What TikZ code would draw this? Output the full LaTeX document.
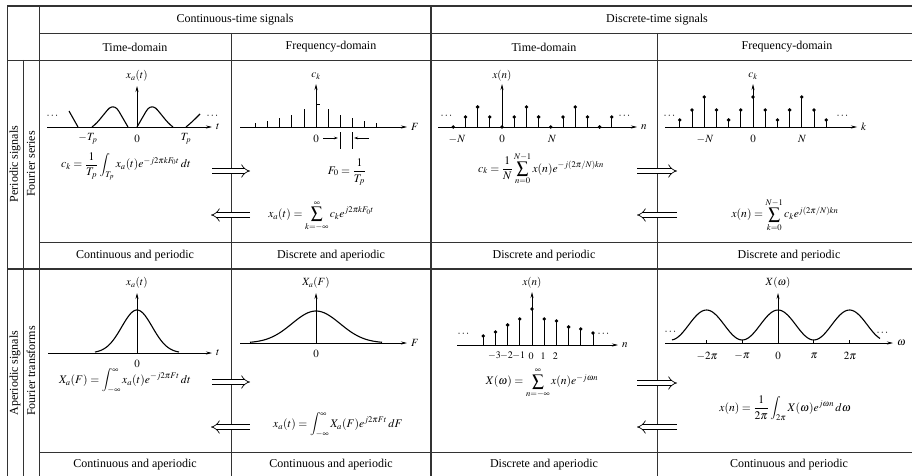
\documentclass[tikz,border=0pt]{standalone}
\usepackage{amsmath}
\usepackage{mathptmx}
\usepackage{fontspec}
\setmainfont{Liberation Serif}
\usetikzlibrary{arrows.meta}

\begin{document}
\begin{tikzpicture}[
    x=1pt, y=-1pt,
    % line styles
    gridline/.style={line width=0.8pt, draw=black!80},
    gridthick/.style={line width=1.5pt, draw=black!80},
    axisline/.style={line width=0.7pt, -{Stealth[length=6pt,width=3pt]}},
    stemline/.style={line width=0.7pt},
    sigline/.style={line width=1.1pt},
    pairArrow/.style={line width=0.7pt, double, double distance=4pt, -{Implies[scale=1.3]}},
    gapArrow/.style={line width=0.6pt, -{Stealth[length=4pt,width=2.5pt]}},
    % text styles
    hdr/.style={font=\fontsize{12}{14}\selectfont, inner sep=1pt},
    lbl/.style={font=\fontsize{11}{13}\selectfont, inner sep=1pt},
    tiny/.style={font=\fontsize{10}{12}\selectfont, inner sep=0.5pt},
    fml/.style={font=\fontsize{11.6}{13}\selectfont, inner sep=1pt}
  ]
  \useasboundingbox (0,0) rectangle (912,476);

  % =========================================================
  % Table rules
  % =========================================================
  \draw[gridthick] (7,6) -- (912,6);
  \draw[gridline] (39,33) -- (912,33);
  \draw[gridline] (7,60) -- (912,60);
  \draw[gridline] (39,242) -- (912,242);
  \draw[gridthick] (7,269) -- (912,269);
  \draw[gridline] (39,452) -- (912,452);
  \draw[gridline] (7,6) -- (7,476);
  \draw[gridline] (23,60) -- (23,476);
  \draw[gridline] (39,6) -- (39,476);
  \draw[gridline] (231,33) -- (231,476);
  \draw[gridthick] (431,6) -- (431,476);
  \draw[gridline] (657,33) -- (657,476);

  % Headers
  \node[hdr] (hCont) at (235,20) {Continuous-time signals};
  \node[hdr] (hDisc) at (657,20) {Discrete-time signals};
  \node[hdr] (hCT) at (135,47) {Time-domain};
  \node[hdr] (hCF) at (331,47) {Frequency-domain};
  \node[hdr] (hDT) at (544,47) {Time-domain};
  \node[hdr] (hDF) at (787,47) {Frequency-domain};

  \node[hdr, rotate=90] (sPer) at (15,164) {Periodic signals};
  \node[hdr, rotate=90] (sFS) at (31,164) {Fourier series};
  \node[hdr, rotate=90] (sAper) at (15,373) {Aperiodic signals};
  \node[hdr, rotate=90] (sFT) at (31,371) {Fourier transforms};

  \node[hdr] (bCP) at (135,256) {Continuous and periodic};
  \node[hdr] (bDA) at (331,256) {Discrete and aperiodic};
  \node[hdr] (bDP1) at (544,256) {Discrete and periodic};
  \node[hdr] (bDP2) at (789,256) {Discrete and periodic};
  \node[hdr] (bCA1) at (135,465) {Continuous and aperiodic};
  \node[hdr] (bCA2) at (331,465) {Continuous and aperiodic};
  \node[hdr] (bDA2) at (544,465) {Discrete and aperiodic};
  \node[hdr] (bCP2) at (789,465) {Continuous and periodic};

  % =========================================================
  % 1. Periodic, continuous time
  % =========================================================
  \draw[axisline] (47,127) -- (212,127);
  \draw[axisline] (137,127) -- (137,86);
  \node[lbl] (xaT) at (137,76) {$x_a(t)$};
  \node[lbl, anchor=west] (tT) at (215,127) {$t$};
  \begin{scope}[shift={(137,127)}, yscale=-1]
    \draw[sigline] (0,0) -- (9,15.5) .. controls (11.5,20) and (15,21.5) .. (18.5,19) .. controls (23,15) and (29,5) .. (36,0);
  \end{scope}
  \begin{scope}[shift={(128,127)}, xscale=-1, yscale=-1]
    \draw[sigline] (0,0) -- (9,15.5) .. controls (11.5,20) and (15,21.5) .. (18.5,19) .. controls (23,15) and (29,5) .. (36,0);
  \end{scope}
  \draw[sigline] (78,127) -- (69,111);
  \draw[sigline] (186,127) .. controls (192,122) .. (200,114);
  \node[lbl] (dT1) at (53,116) {$\cdots$};
  \node[lbl] (dT2) at (213,116) {$\cdots$};
  \node[lbl] (mTp) at (88,139) {$-T_p$};
  \node[lbl] (zT) at (137,139) {$0$};
  \node[lbl] (pTp) at (186,139) {$T_p$};
  \node[fml] (ckInt) at (126,166) {$c_k=\dfrac{1}{T_p}\displaystyle\int_{T_p}x_a(t)e^{-j2\pi kF_0t}\,dt$};

  % =========================================================
  % 2. Periodic, continuous frequency
  % =========================================================
  \draw[axisline] (240,127) -- (407,127);
  \draw[axisline] (316,127) -- (316,84);
  \node[lbl] (ckF) at (316,76) {$c_k$};
  \node[lbl, anchor=west] (fF) at (410,127) {$F$};
  \foreach \k/\h in {-5/4,-4/6,-3/9,-2/12,-1/18,1/18,2/12,3/9,4/6,5/4}
    \draw[stemline] (316+12.1*\k,127) -- (316+12.1*\k,127-\h);
  \draw[stemline] (316,104) -- (320,104);
  \node[lbl] (zF) at (316,139) {$0$};
  \draw[stemline] (340,132) -- (340,149);
  \draw[stemline] (352,132) -- (352,149);
  \coordinate (gapL) at (323,138);
  \coordinate (gapLe) at (338,138);
  \coordinate (gapR) at (369,138);
  \coordinate (gapRe) at (354,138);
  \draw[gapArrow] (gapL) -- (gapLe);
  \draw[gapArrow] (gapR) -- (gapRe);
  \node[fml] (fZero) at (347,172) {$F_0=\dfrac{1}{T_p}$};
  \node[fml] (xaSum) at (321,216) {$x_a(t)=\displaystyle\sum_{k=-\infty}^{\infty}c_k e^{j2\pi kF_0t}$};

  % =========================================================
  % 3. Periodic, discrete time
  % =========================================================
  \draw[axisline] (438,127) -- (637,127);
  \draw[axisline] (502,127) -- (502,84);
  \node[lbl] (xnT) at (502,76) {$x(n)$};
  \node[lbl, anchor=west] (nT) at (640,127) {$n$};
  \foreach \n/\h in {-4/0,-3/10,-2/20,-1/10,0/0,1/10,2/20,3/10,4/0,5/10,6/20,7/10,8/0,9/10}{
    \draw[stemline] (502+12.2*\n,127) -- (502+12.2*\n,127-\h);
    \fill (502+12.2*\n,127-\h) circle (1.9);
  }
  \node[lbl] (dN1) at (447,116) {$\cdots$};
  \node[lbl] (dN2) at (625,116) {$\cdots$};
  \node[lbl] (mN) at (457,139) {$-N$};
  \node[lbl] (zN) at (502,139) {$0$};
  \node[lbl] (pN) at (552,139) {$N$};
  \node[fml] (ckSum) at (541,169) {$c_k=\dfrac{1}{N}\displaystyle\sum_{n=0}^{N-1}x(n)e^{-j(2\pi/N)kn}$};

  % =========================================================
  % 4. Periodic, discrete frequency
  % =========================================================
  \draw[axisline] (665,127) -- (857,127);
  \draw[axisline] (753,127) -- (753,84);
  \node[lbl] (ckK) at (753,76) {$c_k$};
  \node[lbl, anchor=west] (kK) at (860,127) {$k$};
  \foreach \k/\h in {-6/7,-5/17,-4/30,-3/17,-2/7,-1/17,0/30,1/17,2/7,3/17,4/30,5/17,6/7}{
    \draw[stemline] (753+12.2*\k,127) -- (753+12.2*\k,127-\h);
    \fill (753+12.2*\k,127-\h) circle (1.9);
  }
  \node[lbl] (dK1) at (670,116) {$\cdots$};
  \node[lbl] (dK2) at (843,116) {$\cdots$};
  \node[lbl] (mNk) at (705,139) {$-N$};
  \node[lbl] (zK) at (753,139) {$0$};
  \node[lbl] (pNk) at (802,139) {$N$};
  \node[fml] (xnSum) at (785,215) {$x(n)=\displaystyle\sum_{k=0}^{N-1}c_k e^{j(2\pi/N)kn}$};

  % =========================================================
  % 5. Aperiodic, continuous time
  % =========================================================
  \draw[axisline] (48,353) -- (212,353);
  \draw[axisline] (137,353) -- (137,293);
  \node[lbl] (xaA) at (137,283) {$x_a(t)$};
  \node[lbl, anchor=west] (tA) at (215,353) {$t$};
  \begin{scope}[shift={(137,353)}, yscale=-1]
    \draw[sigline] plot[domain=-42:42, samples=60, smooth] (\x, {43*exp(-\x*\x/(2*15.3*15.3))});
  \end{scope}
  \node[lbl] (zA) at (137,364) {$0$};
  \node[fml] (XaInt) at (125,381) {$X_a(F)=\displaystyle\int_{-\infty}^{\infty}x_a(t)e^{-j2\pi Ft}\,dt$};

  % =========================================================
  % 6. Aperiodic, continuous frequency
  % =========================================================
  \draw[axisline] (240,343) -- (407,343);
  \draw[axisline] (316,343) -- (316,293);
  \node[lbl] (XaF) at (316,283) {$X_a(F)$};
  \node[lbl, anchor=west] (fA) at (410,343) {$F$};
  \begin{scope}[shift={(316,343)}, yscale=-1]
    \draw[sigline] plot[domain=-66:66, samples=60, smooth] (\x, {32*exp(-\x*\x/(2*24*24))});
  \end{scope}
  \node[lbl] (zFA) at (316,354) {$0$};
  \node[fml] (xaInt) at (338,425) {$x_a(t)=\displaystyle\int_{-\infty}^{\infty}X_a(F)e^{j2\pi Ft}\,dF$};

  % =========================================================
  % 7. Aperiodic, discrete time
  % =========================================================
  \draw[axisline] (457,345) -- (618,345);
  \draw[axisline] (532,345) -- (532,292);
  \node[lbl] (xnA) at (532,283) {$x(n)$};
  \node[lbl, anchor=west] (nA) at (621,345) {$n$};
  \foreach \n/\h in {-4/9,-3/13,-2/20,-1/26,0/36,1/26,2/24,3/18,4/16,5/12}{
    \draw[stemline] (532+12.2*\n,345) -- (532+12.2*\n,345-\h);
    \fill (532+12.2*\n,345-\h) circle (1.9);
  }
  \foreach \n/\t in {-3/{-3},-2/{-2},-1/{-1},0/0,1/1,2/2}
    \node[tiny] (tk\n) at (532+12.2*\n-1,356) {$\t$};
  \node[lbl] (dA1) at (464,334) {$\cdots$};
  \node[lbl] (dA2) at (604,334) {$\cdots$};
  \node[fml] (XwSum) at (542,383) {$X(\omega)=\displaystyle\sum_{n=-\infty}^{\infty}x(n)e^{-j\omega n}$};

  % =========================================================
  % 8. Aperiodic, discrete frequency
  % =========================================================
  \draw[axisline] (665,343) -- (893,343);
  \draw[axisline] (778,343) -- (778,293);
  \node[lbl] (Xw) at (778,283) {$X(\omega)$};
  \node[lbl, anchor=west] (wA) at (896,343) {$\omega$};
  \begin{scope}[shift={(778,343)}, yscale=-1]
    \draw[sigline] plot[domain=-106:102, samples=120, smooth] (\x, {3+15*(1+cos(\x/35.75*180))});
  \end{scope}
  \foreach \p in {-71.5,-35.75,35.75,71.5}
    \draw[stemline] (778+\p,343) -- (778+\p,340);
  \node[lbl] (dW1) at (671,332) {$\cdots$};
  \node[lbl] (dW2) at (883,333) {$\cdots$};
  \node[lbl] (wm2) at (707,356) {$-2\pi$};
  \node[lbl] (wm1) at (742,356) {$-\pi$};
  \node[lbl] (w0) at (778,356) {$0$};
  \node[lbl] (wp1) at (814,356) {$\pi$};
  \node[lbl] (wp2) at (850,356) {$2\pi$};
  \node[fml] (xnInt) at (785,408) {$x(n)=\dfrac{1}{2\pi}\displaystyle\int_{2\pi}X(\omega)e^{j\omega n}\,d\omega$};

  % =========================================================
  % Transform pair arrows
  % =========================================================
  \coordinate (pA1) at (212,171);  \coordinate (pA2) at (250,171);
  \coordinate (pB1) at (211,215);  \coordinate (pB2) at (250,215);
  \coordinate (pC1) at (637,171);  \coordinate (pC2) at (677,171);
  \coordinate (pD1) at (637,215);  \coordinate (pD2) at (677,215);
  \coordinate (pE1) at (212,382);  \coordinate (pE2) at (250,382);
  \coordinate (pF1) at (211,427);  \coordinate (pF2) at (250,427);
  \coordinate (pG1) at (637,383);  \coordinate (pG2) at (677,383);
  \coordinate (pH1) at (637,427);  \coordinate (pH2) at (677,427);
  \draw[pairArrow] (pA1) -- (pA2);
  \draw[pairArrow] (pB2) -- (pB1);
  \draw[pairArrow] (pC1) -- (pC2);
  \draw[pairArrow] (pD2) -- (pD1);
  \draw[pairArrow] (pE1) -- (pE2);
  \draw[pairArrow] (pF2) -- (pF1);
  \draw[pairArrow] (pG1) -- (pG2);
  \draw[pairArrow] (pH2) -- (pH1);
\end{tikzpicture}
\end{document}
